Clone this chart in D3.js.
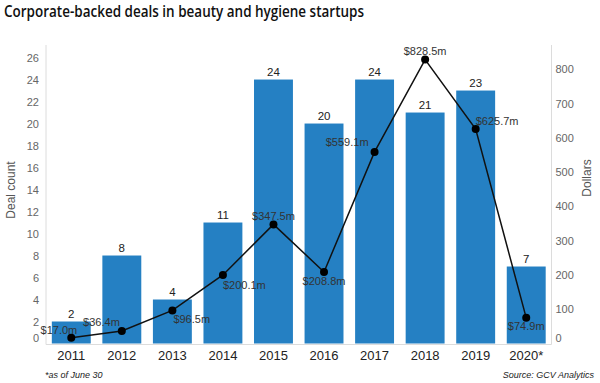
<!DOCTYPE html>
<html><head><meta charset="utf-8">
<script src="https://cdn.jsdelivr.net/npm/d3@7"></script>
<style>body{margin:0;background:#fff}svg{display:block}</style>
</head><body>
<svg id="c" width="600" height="383"></svg>
<script>
const years = ["2011","2012","2013","2014","2015","2016","2017","2018","2019","2020*"];
const dealCounts = [2,8,4,11,24,20,24,21,23,7];
const dollars = [17.0,36.4,96.5,200.1,347.5,208.8,559.1,828.5,625.7,74.9];
const leftTicks = [0,2,4,6,8,10,12,14,16,18,20,22,24,26];
const rightTicks = [0,100,200,300,400,500,600,700,800];
// label placement per point: [anchor, dx, dy]
const labelPlace = [["end",6,-8],["end",-2,-8.5],["start",1,9],["start",0,10],["middle",0,-8],["middle",0,9],["end",-6,-10],["middle",0,-8],["start",0,-8],["middle",0,8]];

const svg = d3.select("#c");
const font = "'Liberation Sans', Arial, sans-serif";
const plotTop = 45, plotBottom = 343.5, plotLeft = 46, plotRight = 551.5;

const x = d3.scaleBand().domain(years).range([plotLeft, plotRight]).paddingInner(0.23).paddingOuter(0.115);
const yL = d3.scaleLinear().domain([0, 27.14]).range([plotBottom, plotTop]);
const yR = d3.scaleLinear().domain([0, 871]).range([plotBottom, plotTop]);

svg.append("text").attr("x", 4).attr("y", 17).attr("font-family", "'Open Sans', sans-serif")
  .attr("font-weight", 600).attr("font-size", 15.5).attr("fill", "#111")
  .text("Corporate-backed deals in beauty and hygiene startups")
  .attr("textLength",360).attr("lengthAdjust","spacingAndGlyphs");

// bars
svg.append("g").selectAll("rect").data(years).join("rect")
  .attr("x", d => x(d)).attr("width", x.bandwidth())
  .attr("y", (d,i) => yL(dealCounts[i])).attr("height", (d,i) => plotBottom - yL(dealCounts[i]))
  .attr("fill", "#2580c3");

// axes lines
const axisColor = "#dcdcdc";
svg.append("line").attr("x1", plotLeft).attr("x2", plotLeft).attr("y1", plotTop).attr("y2", plotBottom+1).attr("stroke", axisColor);
svg.append("line").attr("x1", plotRight).attr("x2", plotRight).attr("y1", plotTop).attr("y2", plotBottom+1).attr("stroke", axisColor);
svg.append("line").attr("x1", plotLeft).attr("x2", plotRight).attr("y1", plotBottom+1).attr("y2", plotBottom+1).attr("stroke", axisColor);

// left ticks
const gL = svg.append("g").attr("transform", `translate(${plotLeft},0)`).call(d3.axisLeft(yL).tickValues(leftTicks).tickSize(0).tickPadding(7));
gL.select(".domain").remove();
gL.selectAll("text").attr("font-family", font).attr("font-size", 11).attr("fill", "#666")
  .attr("dy", d => d === 0 ? "-0.2em" : "0.32em");
// right ticks
const gR = svg.append("g").attr("transform", `translate(${plotRight},0)`).call(d3.axisRight(yR).tickValues(rightTicks).tickSize(0).tickPadding(4));
gR.select(".domain").remove();
gR.selectAll("text").attr("font-family", font).attr("font-size", 11).attr("fill", "#666")
  .attr("dy", d => d === 0 ? "-0.2em" : "0.32em");
// x axis
const gX = svg.append("g").attr("transform", `translate(0,${plotBottom+1})`).call(d3.axisBottom(x).tickSize(0).tickPadding(6));
gX.select(".domain").remove();
gX.selectAll("text").attr("font-family", font).attr("font-size", 13).attr("fill", "#222");

// axis titles
svg.append("text").attr("transform", "translate(15,190) rotate(-90)").attr("text-anchor", "middle")
  .attr("font-family", font).attr("font-size", 12).attr("fill", "#555").text("Deal count");
svg.append("text").attr("transform", "translate(591,178) rotate(-90)").attr("text-anchor", "middle")
  .attr("font-family", font).attr("font-size", 12).attr("fill", "#555").text("Dollars");

// bar labels
svg.append("g").selectAll("text").data(years).join("text")
  .attr("x", d => x(d) + x.bandwidth()/2).attr("y", (d,i) => yL(dealCounts[i]) - 4)
  .attr("text-anchor", "middle").attr("font-family", font).attr("font-size", 11.5).attr("fill", "#222")
  .text((d,i) => dealCounts[i]);

// line
const cx = d => x(d) + x.bandwidth()/2;
svg.append("path").datum(years)
  .attr("d", d3.line().x(d => cx(d)).y((d,i) => yR(dollars[i])))
  .attr("fill", "none").attr("stroke", "#111").attr("stroke-width", 1.5);
svg.append("g").selectAll("circle").data(years).join("circle")
  .attr("cx", d => cx(d)).attr("cy", (d,i) => yR(dollars[i])).attr("r", 4).attr("fill", "#000");
svg.append("g").selectAll("text").data(years).join("text")
  .attr("x", (d,i) => cx(d) + labelPlace[i][1]).attr("y", (d,i) => yR(dollars[i]) + labelPlace[i][2])
  .attr("dy", "0.35em").attr("text-anchor", (d,i) => labelPlace[i][0])
  .attr("font-family", font).attr("font-size", 11).attr("fill", "#333")
  .text((d,i) => "$" + dollars[i].toFixed(1) + "m");

// footer
svg.append("text").attr("x", 45).attr("y", 378).attr("font-family", font).attr("font-style", "italic")
  .attr("font-size", 9).attr("fill", "#222").text("*as of June 30");
svg.append("text").attr("x", 594).attr("y", 378).attr("text-anchor", "end").attr("font-family", font).attr("font-style", "italic")
  .attr("font-size", 9).attr("fill", "#222").text("Source: GCV Analytics");
</script>
</body></html>
